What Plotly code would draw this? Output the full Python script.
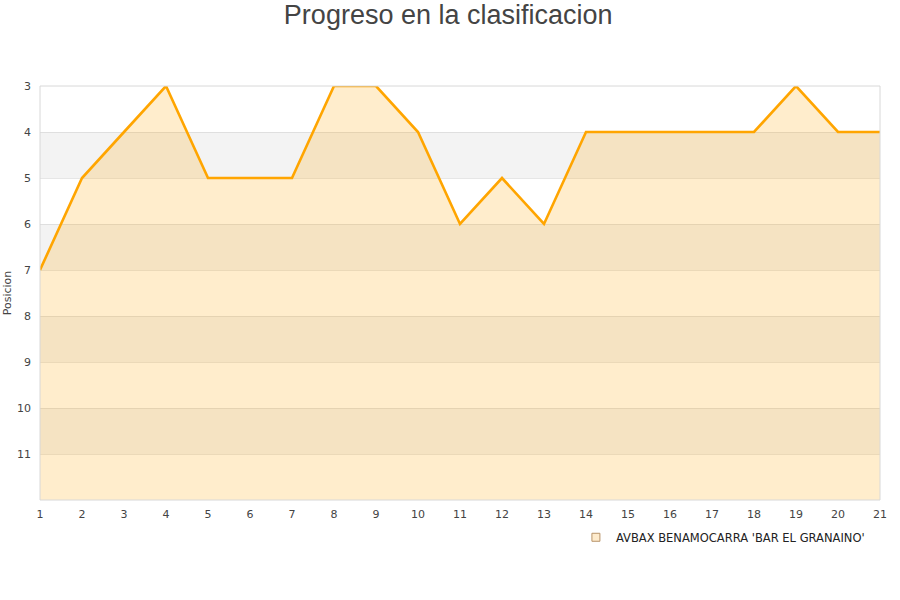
import plotly.graph_objects as go

jornadas = list(range(1, 22))
posiciones = [7, 5, 4, 3, 5, 5, 5, 3, 3, 4, 6, 5, 6, 4, 4, 4, 4, 4, 3, 4, 4]
equipo = "AVBAX BENAMOCARRA 'BAR EL GRANAINO'"
y_ticks = list(range(3, 12))
y_min, y_max = 3, 12
titulo = "Progreso en la clasificacion"
y_titulo = "Posicion"

fig = go.Figure()

# baseline at the bottom of the reversed axis for the area fill
fig.add_trace(go.Scatter(
    x=jornadas, y=[y_max] * len(jornadas), mode="lines",
    line=dict(width=0), showlegend=False, hoverinfo="skip"))

fig.add_trace(go.Scatter(
    x=jornadas, y=posiciones, mode="lines", name=equipo,
    line=dict(color="#FFA500", width=2.6),
    fill="tonexty", fillcolor="rgba(255,165,0,0.2)",
    showlegend=False))

# legend entry
fig.add_trace(go.Scatter(
    x=[None], y=[None], mode="markers", name=equipo,
    marker=dict(symbol="square", size=8, color="#FEEBCC",
                line=dict(color="#B8946A", width=1))))

shapes = []
for lo in range(4, 12, 2):
    shapes.append(dict(type="rect", xref="paper", yref="y",
                       x0=0, x1=1, y0=lo, y1=lo + 1,
                       fillcolor="#F3F3F3", line=dict(width=0), layer="below"))
shapes.append(dict(type="rect", xref="paper", yref="paper", x0=0, x1=1, y0=0, y1=1,
                   line=dict(color="#D8D8D8", width=1), fillcolor="rgba(0,0,0,0)",
                   layer="above"))

fig.update_layout(
    width=900, height=600,
    margin=dict(l=40, r=20, t=86, b=100, autoexpand=False),
    paper_bgcolor="white", plot_bgcolor="white",
    title=dict(text=titulo, x=0.498, xanchor="center", y=0.975, yanchor="middle",
               yref="container",
               font=dict(family="Liberation Sans, Arial", size=27, color="#444444")),
    font=dict(family="DejaVu Sans", size=11, color="#444444"),
    shapes=shapes,
    showlegend=True,
    legend=dict(x=0.638, xanchor="left", y=-0.055, yanchor="top",
                font=dict(family="DejaVu Sans", size=11.5, color="#222222"),
                bgcolor="rgba(0,0,0,0)", itemwidth=30),
)

fig.update_xaxes(range=[1, 21], tickmode="array", tickvals=jornadas,
                 showgrid=False, zeroline=False, showline=False, automargin=False,
                 ticks="", ticklabelstandoff=6, tickfont=dict(size=11, color="#444444"))
fig.update_yaxes(range=[y_max, y_min], tickmode="array", tickvals=y_ticks,
                 showgrid=True, gridcolor="rgba(200,200,200,0.45)", gridwidth=1,
                 zeroline=False, showline=False, ticks="", automargin=False,
                 ticklabelstandoff=8,
                 title=dict(text=y_titulo, font=dict(size=11, color="#444444"), standoff=3),
                 tickfont=dict(size=11, color="#444444"))

fig.write_html("out.html", config={"displayModeBar": False},
               post_script="document.body.style.margin='0';")
